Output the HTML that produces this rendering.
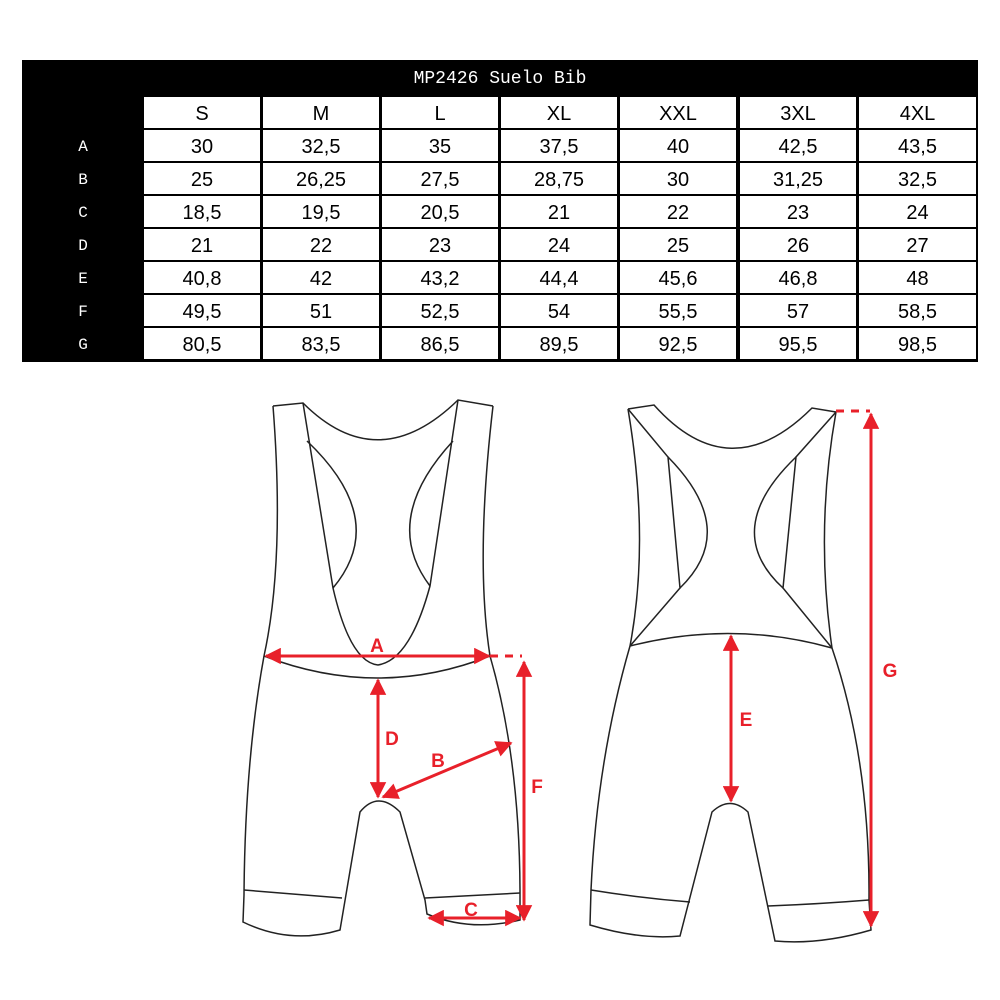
<!DOCTYPE html>
<html><head><meta charset="utf-8"><style>html,body{margin:0;padding:0;background:#fff}svg{display:block}</style></head>
<body>
<svg width="1000" height="1000" viewBox="0 0 1000 1000" xmlns="http://www.w3.org/2000/svg">
<defs>
<marker id="ah" viewBox="0 0 10 10" refX="9" refY="5" markerWidth="6" markerHeight="5.5" orient="auto-start-reverse" markerUnits="strokeWidth">
<path d="M0,0 L10,5 L0,10 z" fill="#e8202a"/>
</marker>
</defs>
<rect x="22" y="60" width="956" height="302" fill="#000"/>
<text x="500" y="83" fill="#fff" font-family="Liberation Mono, monospace" font-size="18" text-anchor="middle">MP2426 Suelo Bib</text>
<g fill="#fff">
<g id="cells"></g>
</g>
<g font-family="Liberation Sans, sans-serif" font-size="20" text-anchor="middle" fill="#000" id="tbl"></g>
<g font-family="Liberation Mono, monospace" font-size="16" fill="#fff" text-anchor="middle" id="lbl"></g>

<g fill="none" stroke="#222" stroke-width="1.5">
<path d="M273,406 L303,403 Q378,478 458,400 L493,406"/>
<path d="M273,406 Q285,560 264,656"/>
<path d="M493,406 Q475,560 490,656"/>
<path d="M303,403 L333,588 Q350,662 378,665 Q410,660 430,586 L458,400"/>
<path d="M307,441 Q390,520 333,588"/>
<path d="M453,441 Q380,520 430,586"/>
<path d="M264,656 Q378,700 490,656"/>
<path d="M264,656 Q245,760 244,895 L243,922 Q290,945 340,930 L360,812 Q378,790 400,812 L425,900 L427,914 Q470,932 520,920 L520,895 Q520,760 490,656"/>
<path d="M244,890 L342,898"/>
<path d="M425,898 L520,893"/>
<path d="M628,409 L654,405 Q730,490 812,408 L836,412"/>
<path d="M628,409 Q650,540 630,646"/>
<path d="M836,412 Q815,530 832,648"/>
<path d="M628,409 L668,457 L680,588 L630,646"/>
<path d="M668,457 Q740,530 680,588"/>
<path d="M836,412 L796,457 L783,588 L832,648"/>
<path d="M796,457 Q720,530 783,588"/>
<path d="M630,646 Q732,620 832,648"/>
<path d="M630,646 Q597,760 591,890 L590,925 Q640,940 680,936 L712,812 Q730,795 748,812 L775,941 Q820,945 871,930 L869,900 Q870,760 832,648"/>
<path d="M591,890 Q640,898 690,902"/>
<path d="M768,906 Q820,904 869,900"/>
</g>
<g stroke="#e8202a" stroke-width="3" fill="none">
<line x1="266" y1="656" x2="489" y2="656" marker-start="url(#ah)" marker-end="url(#ah)"/>
<line x1="490" y1="656" x2="522" y2="656" stroke-dasharray="8,7"/>
<line x1="378" y1="680" x2="378" y2="797" marker-start="url(#ah)" marker-end="url(#ah)"/>
<line x1="383" y1="797" x2="511" y2="743" marker-start="url(#ah)" marker-end="url(#ah)"/>
<line x1="524" y1="662" x2="524" y2="920" marker-start="url(#ah)" marker-end="url(#ah)"/>
<line x1="429" y1="918" x2="520" y2="918" marker-start="url(#ah)" marker-end="url(#ah)"/>
<line x1="731" y1="636" x2="731" y2="801" marker-start="url(#ah)" marker-end="url(#ah)"/>
<line x1="871" y1="414" x2="871" y2="926" marker-start="url(#ah)" marker-end="url(#ah)"/>
<line x1="836" y1="411" x2="870" y2="411" stroke-dasharray="8,7"/>
</g>
<g fill="#e8202a" font-family="Liberation Sans, sans-serif" font-weight="bold" font-size="19" text-anchor="middle">
<text x="377" y="652">A</text>
<text x="392" y="745">D</text>
<text x="438" y="767">B</text>
<text x="537" y="793">F</text>
<text x="471" y="916">C</text>
<text x="746" y="726">E</text>
<text x="890" y="677">G</text>
</g>
<script>
(function(){
var ns="http://www.w3.org/2000/svg";
var xs=[144,263,382,501,620,740,859],ys=[97,130,163,196,229,262,295,328];
var data=[["S","M","L","XL","XXL","3XL","4XL"],
["30","32,5","35","37,5","40","42,5","43,5"],
["25","26,25","27,5","28,75","30","31,25","32,5"],
["18,5","19,5","20,5","21","22","23","24"],
["21","22","23","24","25","26","27"],
["40,8","42","43,2","44,4","45,6","46,8","48"],
["49,5","51","52,5","54","55,5","57","58,5"],
["80,5","83,5","86,5","89,5","92,5","95,5","98,5"]];
var labs=["","A","B","C","D","E","F","G"];
var cells=document.getElementById("cells"),tbl=document.getElementById("tbl"),lbl=document.getElementById("lbl");
for(var r=0;r<8;r++){
 var h=31;
 for(var c=0;c<7;c++){
  var w=(c==6)?117:116;
  var re=document.createElementNS(ns,"rect");
  re.setAttribute("x",xs[c]);re.setAttribute("y",ys[r]);re.setAttribute("width",w);re.setAttribute("height",h);re.setAttribute("fill","#fff");
  cells.appendChild(re);
  var t=document.createElementNS(ns,"text");
  t.setAttribute("x",xs[c]+w/2);t.setAttribute("y",ys[r]+23);t.textContent=data[r][c];
  tbl.appendChild(t);
 }
 if(labs[r]){var l=document.createElementNS(ns,"text");l.setAttribute("x",83);l.setAttribute("y",ys[r]+21);l.textContent=labs[r];lbl.appendChild(l);}
}
})();
</script>
</svg>
</body></html>
